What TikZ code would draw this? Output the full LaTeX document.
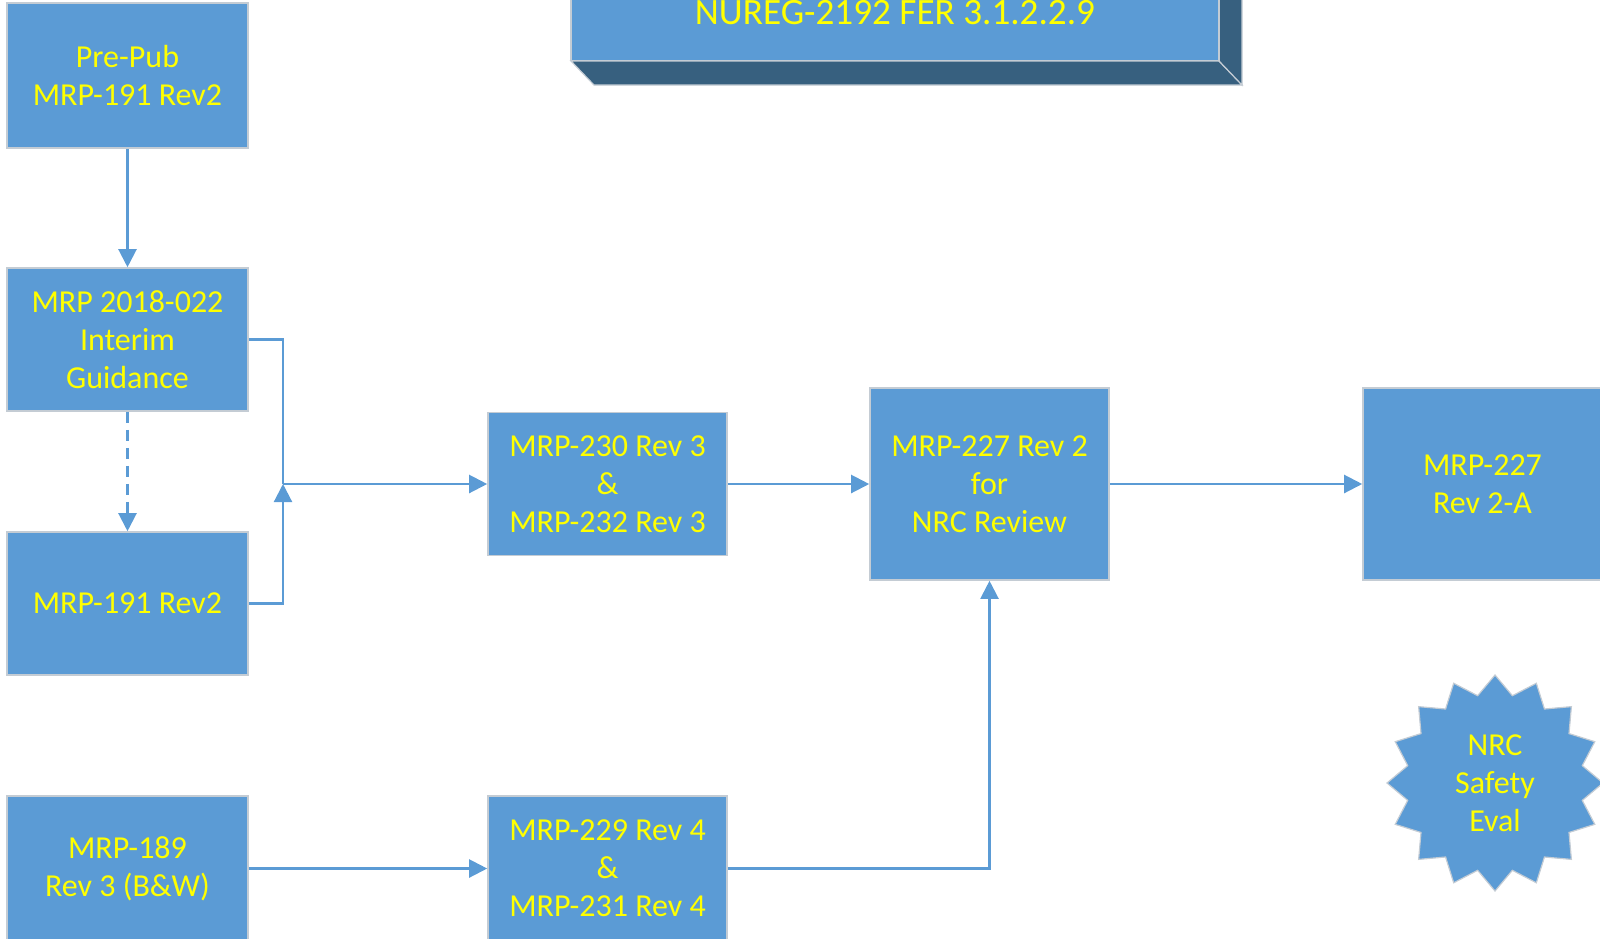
\documentclass[tikz,border=0pt]{standalone}
\usepackage{fontspec}
\setmainfont{Carlito}
\usetikzlibrary{arrows.meta}
\definecolor{obl}{HTML}{5B9BD5}
\definecolor{obdark}{HTML}{37607F}
\definecolor{obedge}{HTML}{C4CCD4}
\definecolor{txt}{HTML}{FFFF00}
\tikzset{
  box/.style={draw=obedge, line width=0.8pt, fill=obl, text=txt, align=center, inner sep=0pt,
    font=\fontsize{16pt}{19pt}\selectfont},
  conn/.style={draw=obl, line width=1.1pt},
  arr/.style={conn, -{Triangle[length=9pt,width=9pt]}},
}
\begin{document}
\begin{tikzpicture}[x=0.5pt,y=-0.5pt]
\useasboundingbox (0,0) rectangle (1600,938);
\clip (0,0) rectangle (1600,938);
% 3D top box
\fill[obdark, draw=obedge, line width=0.6pt] (571,61) -- (1219,61) -- (1242,85) -- (594,85) -- cycle;
\fill[obdark, draw=obedge, line width=0.6pt] (1219,-80) -- (1242,-56) -- (1242,85) -- (1219,61) -- cycle;
\node[box, minimum width=324pt, minimum height=70pt] (nureg) at (895,-9.5) {};
\node[text=txt, font=\fontsize{18.6pt}{22pt}\selectfont, inner sep=0pt] (nuregtxt) at (895,13) {NUREG-2192 FER 3.1.2.2.9};
% boxes
\node[box, minimum width=120.5pt, minimum height=72.5pt] (pre) at (127.5,75.5) {Pre-Pub\\MRP-191 Rev2};
\node[box, minimum width=120.5pt, minimum height=71.5pt] (m22) at (127.5,339.5) {MRP 2018-022\\Interim\\Guidance};
\node[box, minimum width=120.5pt, minimum height=71.5pt] (m191) at (127.5,603.5) {MRP-191 Rev2};
\node[box, minimum width=120.5pt, minimum height=72.5pt] (m189) at (127.5,868.5) {MRP-189\\Rev 3 (B\&W)};
\node[box, minimum width=119.5pt, minimum height=71.5pt] (m230) at (607.5,484) {MRP-230 Rev 3\\\&\\MRP-232 Rev 3};
\node[box, minimum width=119.5pt, minimum height=72.5pt] (m229) at (607.5,868.5) {MRP-229 Rev 4\\\&\\MRP-231 Rev 4};
\node[box, minimum width=119.5pt, minimum height=96pt] (m227) at (989.5,484) {MRP-227 Rev 2\\for\\NRC Review};
\node[box, minimum width=119.5pt, minimum height=96pt] (m227a) at (1482.5,484) {MRP-227\\Rev 2-A};
% star
\begin{scope}[shift={(1495,783)}]
\fill[obl, draw=obedge, line width=0.6pt]
  (90:108)
  \foreach \i in {0,...,15} {
    -- ({90+22.5*\i+11.25}:89) -- ({90+22.5*(\i+1)}:108)
  } -- cycle;
\end{scope}
\node[text=txt, align=center, font=\fontsize{16pt}{19pt}\selectfont, inner sep=0pt] (star) at (1495,783) {NRC\\Safety\\Eval};
% connectors
\coordinate (j) at (283,484);
\draw[arr] (pre) -- (m22);
\draw[arr, dash pattern=on 5.5pt off 3.5pt] (m22) -- (m191);
\draw[conn] (m22.east) -| (j);
\draw[arr] (m191.east) -| (j);
\draw[arr] (j) -- (m230.west);
\draw[arr] (m230.east) -- (m227.west);
\draw[arr] (m227.east) -- (m227a.west);
\draw[arr] (m189.east) -- (m229.west);
\draw[arr] (m229.east) -| (m227.south);
\end{tikzpicture}
\end{document}
